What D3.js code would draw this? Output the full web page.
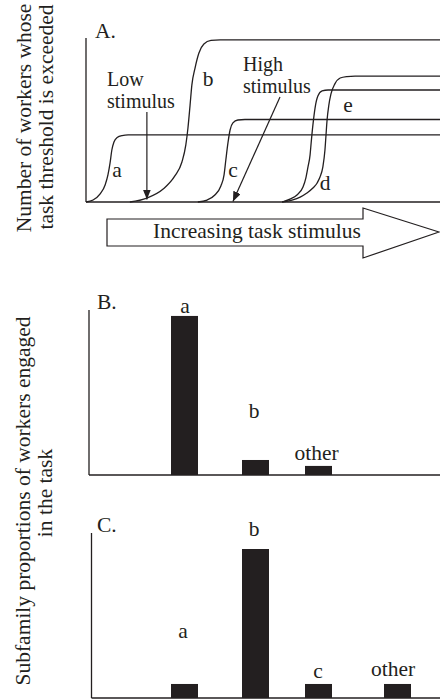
<!DOCTYPE html>
<html>
<head>
<meta charset="utf-8">
<script src="https://cdn.jsdelivr.net/npm/d3@7/dist/d3.min.js"></script>
<style>
  html, body { margin: 0; padding: 0; background: #fff; }
  svg { display: block; }
</style>
</head>
<body>
<div id="chart"></div>
<script>
// ---- Panel A: response-threshold curves (stimulus on x, workers above threshold on y) ----
const curveNames = ["a", "b", "c", "d", "e"];
const curveA = [[0,0],[2.0,1.2],[4.0,4.9],[5.4,10.4],[6.2,16.5],[6.8,23.8],[7.3,31.7],[7.9,36.6],[8.8,39.3],[10.2,40.5],[11.9,40.9],[100,40.9]];
const curveB = [[12.4,0],[17.2,2.4],[21.8,7.9],[25.1,15.9],[27.1,24.4],[28.2,34.8],[28.8,45.1],[29.4,59.1],[29.9,71.3],[30.8,81.7],[31.9,90.9],[33.3,96.3],[35.3,98.5],[37.9,98.8],[100,98.8]];
const curveC = [[31.6,0],[34.2,1.2],[36.4,4.3],[38.1,9.8],[39.0,16.5],[39.5,25.6],[40.1,36.0],[40.7,43.9],[41.5,48.2],[42.9,50.0],[44.9,50.3],[100,50.3]];
const curveD = [[55.4,0],[57.6,1.8],[59.6,4.3],[61.3,9.1],[62.1,14.6],[62.7,21.3],[63.3,28.7],[63.6,36.0],[64.1,47.0],[64.7,57.3],[65.5,64.6],[66.7,67.7],[68.4,68.3],[100,68.3]];
const curveE = [[55.4,0],[58.2,1.2],[60.5,3.0],[62.4,5.5],[64.1,8.5],[65.3,11.6],[66.1,15.2],[66.9,21.3],[67.5,31.7],[67.8,40.9],[68.1,50.0],[68.6,59.1],[69.2,65.9],[70.3,72.0],[71.8,75.6],[73.7,76.5],[76.0,76.8],[100,76.8]];
const curveSeries = [curveA, curveB, curveC, curveD, curveE];

// stimulus levels pointed at by the two annotation arrows
const lowStimulus = 17.2;
const highStimulus = 41.5;

// ---- Panels B and C: subfamily proportions of workers engaged ----
const panelBCategories = ["a", "b", "other"];
const panelBValues = [96.4, 9.1, 5.5];
const panelCCategories = ["a", "b", "c", "other"];
const panelCValues = [8.5, 90.3, 8.5, 8.5];

const W = 440, H = 699;
const ink = "#231f20";
const fontSize = 21.5;
const noteSize = 20;
const serif = "'Liberation Serif', 'Times New Roman', Times, 'DejaVu Serif', serif";

const svg = d3.select("#chart").append("svg")
  .attr("width", W).attr("height", H)
  .attr("viewBox", `0 0 ${W} ${H}`)
  .attr("font-family", serif)
  .style("font-family", serif)
  .attr("fill", ink);

const defs = svg.append("defs");
defs.append("marker")
  .attr("id", "head")
  .attr("viewBox", "0 0 10 8")
  .attr("refX", 10).attr("refY", 4)
  .attr("markerWidth", 10).attr("markerHeight", 8)
  .attr("markerUnits", "userSpaceOnUse")
  .attr("orient", "auto")
  .append("path").attr("d", "M0,0 L10,4 L0,8 Z").attr("fill", ink);

function label(g, x, y, str, anchor, size) {
  return g.append("text")
    .attr("x", x).attr("y", y)
    .attr("text-anchor", anchor || "start")
    .attr("font-size", size || fontSize)
    .style("font-family", serif)
    .attr("fill", ink)
    .text(str);
}

// ================= Panel A =================
const xA = d3.scaleLinear().domain([0, 100]).range([86, 440]);
const yA = d3.scaleLinear().domain([0, 100]).range([202, 38]);

const gA = svg.append("g");

// axes drawn as bare lines (no ticks)
gA.append("line").attr("x1", xA(0)).attr("x2", xA(0)).attr("y1", yA(0)).attr("y2", yA(100))
  .attr("stroke", ink).attr("stroke-width", 1.3);
gA.append("line").attr("x1", xA(0)).attr("x2", xA(100)).attr("y1", yA(0)).attr("y2", yA(0))
  .attr("stroke", ink).attr("stroke-width", 1.4);

const line = d3.line().x(d => xA(d[0])).y(d => yA(d[1])).curve(d3.curveMonotoneX);
gA.selectAll("path.curve").data(curveSeries).join("path")
  .attr("class", "curve")
  .attr("d", line)
  .attr("fill", "none").attr("stroke", ink).attr("stroke-width", 1.3);

label(gA, 95, 38, "A.");

// curve labels
const curveLabelPos = { a: [117, 177], b: [208, 86], c: [233, 177], d: [325, 190], e: [348, 112] };
curveNames.forEach(n => label(gA, curveLabelPos[n][0], curveLabelPos[n][1], n, "middle"));

// Low stimulus annotation
label(gA, 107, 85.5, "Low", "start", noteSize);
label(gA, 107, 107.7, "stimulus", "start", noteSize);
gA.append("line")
  .attr("x1", xA(lowStimulus)).attr("y1", 112)
  .attr("x2", xA(lowStimulus)).attr("y2", yA(1.5))
  .attr("stroke", ink).attr("stroke-width", 1.2).attr("marker-end", "url(#head)");

// High stimulus annotation
label(gA, 243, 70.5, "High", "start", noteSize);
label(gA, 243, 92.7, "stimulus", "start", noteSize);
gA.append("line")
  .attr("x1", 280).attr("y1", 97)
  .attr("x2", xA(highStimulus)).attr("y2", yA(0.3))
  .attr("stroke", ink).attr("stroke-width", 1.2).attr("marker-end", "url(#head)");

// Big outlined arrow along the stimulus axis
const bigArrow = d3.path();
bigArrow.moveTo(107, 219);
bigArrow.lineTo(363, 219);
bigArrow.lineTo(363, 208);
bigArrow.lineTo(439, 232);
bigArrow.lineTo(363, 258);
bigArrow.lineTo(363, 246);
bigArrow.lineTo(107, 246);
bigArrow.closePath();
gA.append("path").attr("d", bigArrow.toString())
  .attr("fill", "#fff").attr("stroke", ink).attr("stroke-width", 1.2);
label(gA, 257, 238, "Increasing task stimulus", "middle");

// Y title of panel A
const titleA = svg.append("g");
label(titleA, 0, 0, "Number of workers whose", "middle").attr("transform", "translate(31,118) rotate(-90)");
label(titleA, 0, 0, "task threshold is exceeded", "middle").attr("transform", "translate(53,117) rotate(-90)");

// ================= Panels B and C =================
// bar slots along the horizontal axis
const slot = d3.scaleOrdinal().domain([0, 1, 2, 3]).range([184.5, 255.5, 318.5, 397.5]);
const barW = 27;

function barPanel(cfg) {
  const y = d3.scaleLinear().domain([0, 100]).range([cfg.base, cfg.top]);
  const g = svg.append("g");
  g.append("line").attr("x1", cfg.axisX).attr("x2", cfg.axisX).attr("y1", y(0)).attr("y2", y(100))
    .attr("stroke", ink).attr("stroke-width", 1.3);
  g.append("line").attr("x1", cfg.axisX).attr("x2", W).attr("y1", y(0)).attr("y2", y(0))
    .attr("stroke", ink).attr("stroke-width", 1.4);
  g.selectAll("rect").data(cfg.values).join("rect")
    .attr("x", (d, i) => slot(i) - barW / 2)
    .attr("width", barW)
    .attr("y", d => y(d))
    .attr("height", d => y(0) - y(d))
    .attr("fill", ink);
  cfg.categories.forEach((c, i) =>
    label(g, slot(i) + cfg.labelDx[i], y(cfg.values[i]) - cfg.labelLift[i], c, "middle"));
  label(g, 97, cfg.top - 1, cfg.title);
}

barPanel({ title: "B.", categories: panelBCategories, values: panelBValues,
  base: 475, top: 310, axisX: 89, labelDx: [0.5, -1.5, -2], labelLift: [3, 42, 6] });
barPanel({ title: "C.", categories: panelCCategories, values: panelCValues,
  base: 698, top: 533, axisX: 91.5, labelDx: [-1.5, -1.5, -0.5, -4.5], labelLift: [46, 13, 6, 8] });

// shared Y title of panels B and C
const titleBC = svg.append("g");
label(titleBC, 0, 0, "Subfamily proportions of workers engaged", "middle").attr("transform", "translate(30,501) rotate(-90)");
label(titleBC, 0, 0, "in the task", "middle").attr("transform", "translate(52,493) rotate(-90)");
</script>
</body>
</html>
